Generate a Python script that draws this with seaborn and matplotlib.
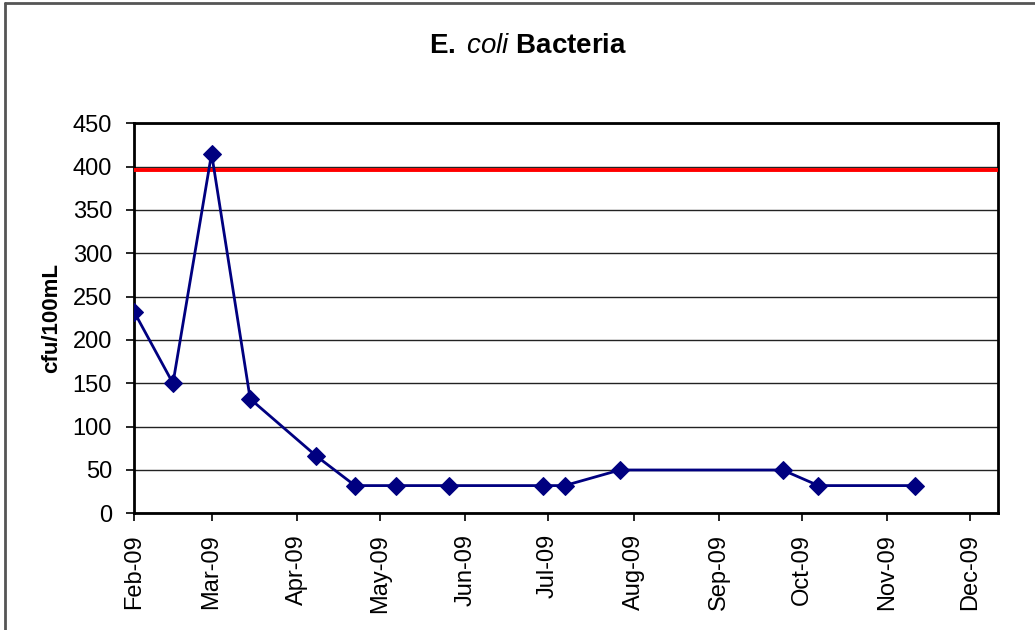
import pandas as pd
import seaborn as sns
import matplotlib.pyplot as plt
import matplotlib.dates as mdates
from matplotlib.lines import Line2D

# sample dates and E. coli counts
dates = ["2009-02-01", "2009-02-15", "2009-03-01", "2009-03-15", "2009-04-08",
         "2009-04-22", "2009-05-07", "2009-05-26", "2009-06-29", "2009-07-07",
         "2009-07-27", "2009-09-24", "2009-10-07", "2009-11-11"]
ecoli = [232, 150, 415, 132, 66, 32, 32, 32, 32, 32, 50, 50, 32, 32]
standard = 396  # red limit line
month_ticks = pd.date_range("2009-02-01", "2009-12-01", freq="MS")

df = pd.DataFrame({"date": pd.to_datetime(dates), "cfu": ecoli})

sns.set_style("white")
plt.rcParams["font.family"] = ["Liberation Sans", "DejaVu Sans"]
plt.rcParams["mathtext.fontset"] = "custom"
plt.rcParams["mathtext.rm"] = "Liberation Sans"
plt.rcParams["mathtext.it"] = "Liberation Sans:italic"
plt.rcParams["mathtext.bf"] = "Liberation Sans:bold"
plt.rcParams["text.color"] = "black"
plt.rcParams["axes.labelcolor"] = "black"
plt.rcParams["xtick.color"] = "black"
plt.rcParams["ytick.color"] = "black"

fig = plt.figure(figsize=(10.35, 6.3), dpi=100)
ax = fig.add_axes([0.1298, 0.1852, 0.8342, 0.6191])

ax.axhline(standard, color="red", lw=2.8, zorder=3)
sns.lineplot(data=df, x="date", y="cfu", color="#000080", lw=2,
             marker="D", markersize=9, markeredgecolor="#000080", ax=ax, zorder=4)

ax.set_ylim(0, 450)
ax.set_yticks(range(0, 451, 50))
ax.set_xlim(pd.Timestamp("2009-02-01"), pd.Timestamp("2009-12-11"))
ax.set_xticks(month_ticks)
ax.xaxis.set_major_formatter(mdates.DateFormatter("%b-%y"))
ax.tick_params(axis="x", rotation=90, pad=9)
ax.tick_params(axis="y", pad=10)
ax.tick_params(direction="out", length=6, width=1.2, labelsize=17,
               bottom=True, left=True)
ax.yaxis.grid(True, color="#222222", lw=1)
ax.set_axisbelow(True)
for s in ax.spines.values():
    s.set_color("black")
    s.set_linewidth(2)

ax.set_xlabel("")
ax.set_ylabel("cfu/100mL", fontsize=16, fontweight="bold", labelpad=8)
fig.text(0.51, 0.927, r"$\mathbf{E.}\;\mathit{coli}\ \mathbf{Bacteria}$",
         ha="center", va="center", fontsize=20)

# screenshot frame: only top and left edges show
fig.lines.append(Line2D([0.0045, 1.0], [0.9945, 0.9945], transform=fig.transFigure,
                        color="#555555", lw=2))
fig.lines.append(Line2D([0.0045, 0.0045], [0.0, 0.9945], transform=fig.transFigure,
                        color="#555555", lw=2))

fig.savefig("out.png", dpi=100)
